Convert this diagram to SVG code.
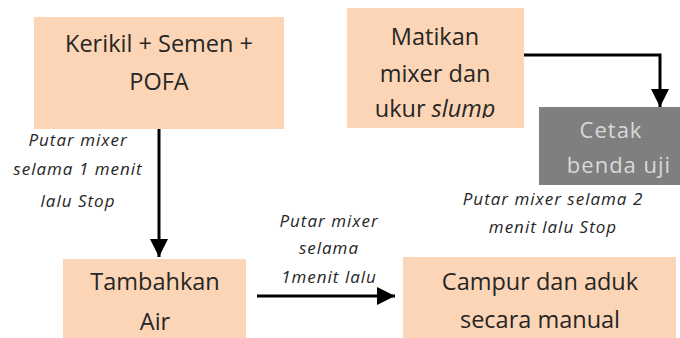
<svg xmlns="http://www.w3.org/2000/svg" width="680" height="338" viewBox="0 0 680 338">
<style>
.box{fill:#fbd5b5}
.gray{fill:#7f7f7f}
.t{font-family:"Open Sans","Liberation Sans",sans-serif;font-size:23.5px;fill:#262626;text-anchor:middle}
.tw{font-family:"Open Sans","Liberation Sans",sans-serif;font-size:22px;fill:#d9d9d9;text-anchor:middle;letter-spacing:1px}
.lbl{font-family:"Open Sans","Liberation Sans",sans-serif;font-size:17px;font-style:italic;fill:#262626;text-anchor:middle;letter-spacing:1px}
.ln{stroke:#000;stroke-width:3;fill:none}
</style>
<defs>
<marker id="ah" viewBox="0 0 18 18" refX="18" refY="9" markerWidth="18" markerHeight="19" markerUnits="userSpaceOnUse" orient="auto" overflow="visible">
<path d="M0,0 L18,9 L0,18 Z" fill="#000"/>
</marker>
<clipPath id="c2"><rect x="347" y="8" width="177" height="110"/></clipPath>
</defs>
<g id="n1">
<rect class="box" x="34" y="17" width="250" height="112"/>
<text class="t" x="159" y="52">Kerikil + Semen +</text>
<text class="t" x="159" y="90">POFA</text>
</g>
<g id="n2">
<rect class="box" x="347" y="8" width="177" height="120"/>
<g clip-path="url(#c2)">
<text class="t" x="435" y="45">Matikan</text>
<text class="t" x="435" y="82">mixer dan</text>
<text class="t" x="435" y="117">ukur <tspan font-style="italic">slump</tspan></text>
</g>
</g>
<g id="n3">
<rect class="gray" x="539" y="107" width="141" height="78"/>
<text class="tw" x="611" y="138">Cetak</text>
<text class="tw" x="619" y="173">benda uji</text>
</g>
<g id="n4">
<rect class="box" x="63" y="259" width="183" height="79"/>
<text class="t" x="155" y="290">Tambahkan</text>
<text class="t" x="155" y="330">Air</text>
</g>
<g id="n5">
<rect class="box" x="403" y="257" width="273" height="81"/>
<text class="t" x="540" y="290">Campur dan aduk</text>
<text class="t" x="540" y="328">secara manual</text>
</g>
<g id="labels">
<text class="lbl" x="78" y="146">Putar mixer</text>
<text class="lbl" x="78" y="175">selama 1 menit</text>
<text class="lbl" x="78" y="207">lalu Stop</text>
<text class="lbl" x="329" y="227">Putar mixer</text>
<text class="lbl" x="329" y="254">selama</text>
<text class="lbl" x="329" y="283">1menit lalu</text>
<text class="lbl" x="553" y="205">Putar mixer selama 2</text>
<text class="lbl" x="553" y="233">menit lalu Stop</text>
</g>
<g id="connectors">
<path class="ln" d="M159,129 V257" marker-end="url(#ah)"/>
<path class="ln" d="M257,296 H395" marker-end="url(#ah)"/>
<path class="ln" d="M524,55 H660 V107" marker-end="url(#ah)"/>
</g>
</svg>
